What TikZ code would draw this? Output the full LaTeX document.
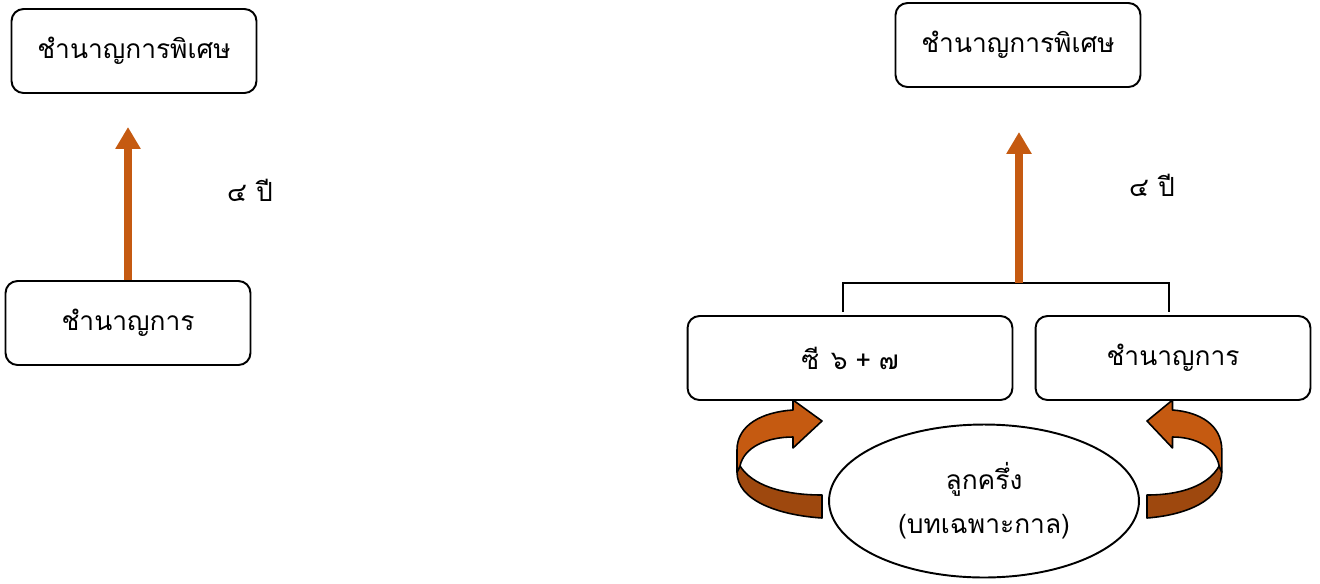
\documentclass[tikz,border=0pt]{standalone}
\usepackage{fontspec}
\newfontfamily\thaifont[Script=Thai]{Loma}
\usetikzlibrary{arrows.meta}
\usetikzlibrary{positioning}
\usetikzlibrary{shapes.geometric}

\definecolor{upcolor}{RGB}{197,90,17}
\definecolor{backcolor}{RGB}{158,72,14}

\tikzset{
    rankbox/.style={draw, rounded corners=0.24cm, line width=1.1pt, minimum width=4.9cm, minimum height=1.68cm, font=\thaifont\fontsize{15}{18}\selectfont},
    uparrow/.style={draw=upcolor, line width=4.5pt, -{Triangle[width=13.7pt,length=12.5pt]}},
    yearlabel/.style={font=\thaifont\fontsize{15}{18}\selectfont}
}

% twisted arrow, tip at local x=0
\newcommand{\curlarrow}{%
    \draw[fill=backcolor, line width=0.9pt, line join=round] (-82,466) .. controls (-70,485) and (-40,495) .. (0,495) -- (0,518) .. controls (-45,515) and (-85,500) .. (-85,472) -- cycle;
    \draw[fill=upcolor, line width=0.9pt, line join=round] (-85,472) -- (-85,450) .. controls (-85,425) and (-60,412) .. (-29,410) -- (-29,400) -- (0,421) -- (-29,448) -- (-29,437) .. controls (-55,437) and (-78,447) .. (-82,466) -- cycle;
}

\begin{document}
\begin{tikzpicture}[x=0.02cm, y=-0.02cm]
    \useasboundingbox (0,0) rectangle (1320,583);

    % left part
    \node[rankbox] (topL) at (134,51) {ชำนาญการพิเศษ};
    \node[rankbox] (lowL) at (128,323) {ชำนาญการ};
    \coordinate (tipL) at (128,127);
    \draw[uparrow] (lowL.north) -- (tipL);
    \node[yearlabel] (yearL) at (250,190) {๔ ปี};

    % right part
    \node[rankbox] (topR) at (1018,45) {ชำนาญการพิเศษ};
    \node[rankbox, minimum width=6.5cm] (cR) at (850,358) {ซี\hspace{0.45em}๖\hspace{0.3em}+\hspace{0.3em}๗};
    \node[rankbox, minimum width=5.5cm] (lowR) at (1173,358) {ชำนาญการ};
    \node[draw, ellipse, line width=1.1pt, minimum width=6.2cm, minimum height=3.06cm, align=center, font=\thaifont\fontsize{15}{25}\selectfont] (half) at (984,501) {ลูกครึ่ง\\(บทเฉพาะกาล)};

    \coordinate (brL) at (843,312);
    \coordinate (brR) at (1169,312);
    \coordinate (brM) at (1019,283);
    \coordinate (tipR) at (1019,132);
    \draw[line width=1.1pt] (brL) |- (brM) -| (brR);
    \draw[uparrow] (brM) -- (tipR);
    \node[yearlabel] (yearR) at (1152,185) {๔ ปี};

    \begin{scope}[shift={(822,0)}]
        \curlarrow
    \end{scope}
    \begin{scope}[shift={(1147,0)}, xscale=-0.88]
        \curlarrow
    \end{scope}
\end{tikzpicture}
\end{document}
